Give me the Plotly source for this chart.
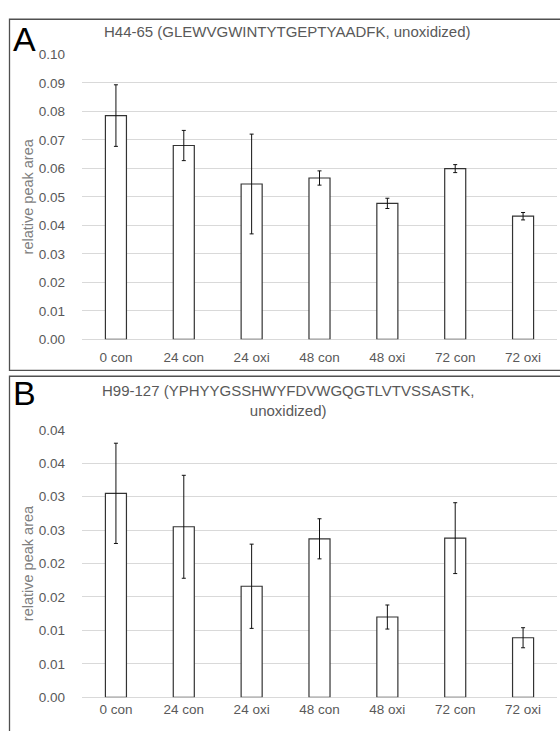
import plotly.graph_objects as go

categories = ["0 con", "24 con", "24 oxi", "48 con", "48 oxi", "72 con", "72 oxi"]

a_values = [0.0785, 0.0680, 0.0545, 0.0566, 0.0477, 0.0599, 0.0432]
a_errors = [0.0108, 0.0053, 0.0175, 0.0025, 0.0018, 0.0014, 0.0013]

b_values = [0.0305, 0.0255, 0.0166, 0.0237, 0.0120, 0.0238, 0.0089]
b_errors = [0.0075, 0.0077, 0.0063, 0.0030, 0.0018, 0.0053, 0.0015]

a_tickvals = [0.00, 0.01, 0.02, 0.03, 0.04, 0.05, 0.06, 0.07, 0.08, 0.09, 0.10]
a_ticktext = ["0.00", "0.01", "0.02", "0.03", "0.04", "0.05", "0.06", "0.07", "0.08", "0.09", "0.10"]
b_tickvals = [0.000, 0.005, 0.010, 0.015, 0.020, 0.025, 0.030, 0.035, 0.040]
b_ticktext = ["0.00", "0.01", "0.01", "0.02", "0.02", "0.03", "0.03", "0.04", "0.04"]

title_a = "H44-65 (GLEWVGWINTYTGEPTYAADFK, unoxidized)"
title_b = "H99-127 (YPHYYGSSHWYFDVWGQGTLVTVSSASTK,<br>unoxidized)"
y_title = "relative peak area"

W, H = 560, 731
FONT = "Liberation Sans, Arial, sans-serif"
TXT = "#595959"

def px(x):
    return x / W

def py(y):
    return 1 - y / H

fig = go.Figure()

bar_style = dict(
    marker=dict(color="white", line=dict(color="#333333", width=1.2)),
    width=0.31,
    showlegend=False,
)
err_style = dict(type="data", color="#111111", thickness=1, width=2)

fig.add_trace(go.Bar(x=categories, y=a_values, xaxis="x", yaxis="y",
                     error_y=dict(array=a_errors, **err_style), **bar_style))
fig.add_trace(go.Bar(x=categories, y=b_values, xaxis="x2", yaxis="y2",
                     error_y=dict(array=b_errors, **err_style), **bar_style))

xdom = [px(82), px(557)]
common_x = dict(
    type="category", range=[-0.5, 6.5], domain=xdom, showgrid=False, showline=False,
    zeroline=False, ticks="", tickfont=dict(family=FONT, size=13.5, color=TXT),
    fixedrange=True,
)
common_y = dict(
    showgrid=True, gridcolor="#d9d9d9", gridwidth=1, zeroline=True,
    zerolinecolor="#d9d9d9", zerolinewidth=1, showline=False, ticks="",
    tickfont=dict(family=FONT, size=13.5, color=TXT), ticklabelstandoff=16,
    title=dict(text=y_title, font=dict(family=FONT, size=14.5, color="#7f7f7f"), standoff=1),
    fixedrange=True,
)

fig.update_layout(
    width=W, height=H, autosize=False,
    margin=dict(l=0, r=0, t=0, b=0),
    paper_bgcolor="white", plot_bgcolor="white",
    xaxis=dict(anchor="y", ticklabelstandoff=8, **common_x),
    yaxis=dict(anchor="x", domain=[py(339.3), py(48.3)], range=[0, 0.10],
               tickvals=a_tickvals, ticktext=a_ticktext, **common_y),
    xaxis2=dict(anchor="y2", ticklabelstandoff=2, **common_x),
    yaxis2=dict(anchor="x2", domain=[py(704.7), py(431.7)], range=[0, 0.04],
                tickvals=b_tickvals, ticktext=b_ticktext, **common_y),
)

shapes = [
    dict(type="rect", xref="paper", yref="paper", x0=px(9.5), x1=px(565),
         y0=py(371), y1=py(12.5), line=dict(color="#505050", width=1.3)),
    dict(type="rect", xref="paper", yref="paper", x0=px(9.5), x1=px(565),
         y0=py(740), y1=py(377), line=dict(color="#505050", width=1.3)),
]
fig.update_layout(shapes=shapes)

annots = [
    dict(text="A", x=px(11), y=py(33), xanchor="left", yanchor="middle",
         font=dict(family=FONT, size=34, color="black")),
    dict(text="B", x=px(11), y=py(394), xanchor="left", yanchor="middle",
         font=dict(family=FONT, size=34, color="black")),
    dict(text=title_a, x=px(287), y=py(25), xanchor="center", yanchor="middle",
         font=dict(family=FONT, size=15, color=TXT)),
    dict(text=title_b, x=px(287.5), y=py(402), xanchor="center", yanchor="middle",
         align="center", font=dict(family=FONT, size=15, color=TXT)),
]
for a in annots:
    a.update(xref="paper", yref="paper", showarrow=False)
fig.update_layout(annotations=annots)

fig.write_html("out.html", config={"displayModeBar": False},
               post_script="document.body.style.margin='0px';")
